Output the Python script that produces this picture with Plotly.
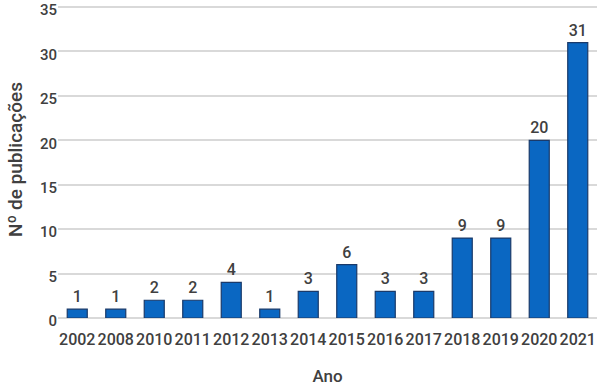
import plotly.graph_objects as go

anos = ["2002", "2008", "2010", "2011", "2012", "2013", "2014", "2015", "2016", "2017", "2018", "2019", "2020", "2021"]
publicacoes = [1, 1, 2, 2, 4, 1, 3, 6, 3, 3, 9, 9, 20, 31]
y_ticks = [0, 5, 10, 15, 20, 25, 30, 35]

fig = go.Figure(go.Bar(
    x=anos, y=publicacoes,
    text=[str(v) for v in publicacoes], textposition="outside",
    textfont=dict(family="Roboto", size=16, color="#404040", weight=500),
    marker=dict(color="#0a67c2", line=dict(color="#1a3a6a", width=1.2)),
    cliponaxis=False,
))
fig.update_layout(
    width=600, height=386,
    margin=dict(l=58, r=3, t=1, b=68, autoexpand=False),
    paper_bgcolor="white", plot_bgcolor="white",
    bargap=0.48,
    font=dict(family="Roboto", size=16, color="#404040", weight=500),
    showlegend=False,
    xaxis=dict(title=dict(text="Ano", standoff=34, font=dict(size=17)), showgrid=False,
               showline=False, ticks="", tickfont=dict(size=16), automargin=False,
               ticklabelstandoff=10),
    yaxis=dict(title=dict(text="Nº de publicações", standoff=12, font=dict(size=19)),
               range=[0, 35.68], tickvals=y_ticks, showgrid=True, gridcolor="#d9d9d9",
               gridwidth=1.5, zeroline=True, zerolinecolor="#d9d9d9", zerolinewidth=1.5,
               ticks="", tickfont=dict(size=15), automargin=False,
               ticklabeloverflow="allow", ticklabelshift=3),
)
fig.write_html("out.html", config={"displayModeBar": False},
               post_script="document.body.style.margin='0';")
